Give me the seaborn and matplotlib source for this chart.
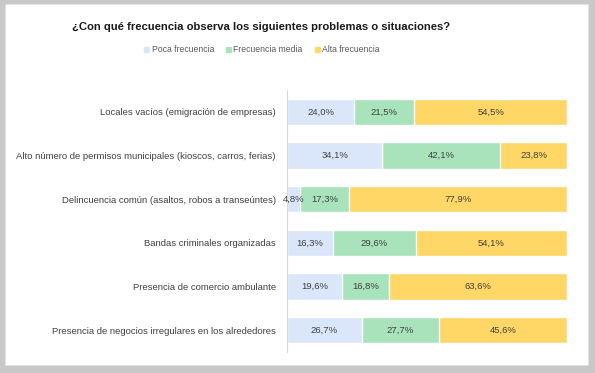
import pandas as pd
import matplotlib.pyplot as plt
import matplotlib.patches as mpatches
import seaborn as sns

# survey data (percent of answers)
categorias = [
    "Locales vacíos (emigración de empresas)",
    "Alto número de permisos municipales (kioscos, carros, ferias)",
    "Delincuencia común (asaltos, robos a transeúntes)",
    "Bandas criminales organizadas",
    "Presencia de comercio ambulante",
    "Presencia de negocios irregulares en los alrededores",
]
poca = [24.0, 34.1, 4.8, 16.3, 19.6, 26.7]
media = [21.5, 42.1, 17.3, 29.6, 16.8, 27.7]
alta = [54.5, 23.8, 77.9, 54.1, 63.6, 45.6]

series = ["Poca frecuencia", "Frecuencia media", "Alta frecuencia"]
colores = ["#dae6f9", "#a8e3bb", "#ffd766"]

df = pd.DataFrame({"cat": categorias, "poca": poca, "media": media, "alta": alta})
df["c1"] = df["poca"]
df["c2"] = df["poca"] + df["media"]
df["c3"] = df["c2"] + df["alta"]

sns.set_style("white")
plt.rcParams["font.family"] = ["Liberation Sans", "DejaVu Sans"]

fig = plt.figure(figsize=(5.95, 3.73), dpi=100)
fig.patch.set_facecolor("#c8c8c8")
fig.patches.append(mpatches.Rectangle((5 / 595, 8 / 373), 583 / 595, 361 / 373,
                                      transform=fig.transFigure, facecolor="white",
                                      edgecolor="#e2e2e2", lw=0.8, zorder=-10))

ax = fig.add_axes([287 / 595, 21 / 373, 280 / 595, 262 / 373])
ax.set_facecolor("none")

# stacked bars drawn as overlapping cumulative bars
for col, color in zip(["c3", "c2", "c1"], colores[::-1]):
    sns.barplot(data=df, y="cat", x=col, orient="h", color=color, width=0.6,
                saturation=1, ax=ax, errorbar=None)

# value labels centered in each segment
for i, row in df.iterrows():
    lefts = [0, row["c1"], row["c2"]]
    vals = [row["poca"], row["media"], row["alta"]]
    for l, v in zip(lefts, vals):
        ax.text(l + v / 2, i, f"{v:.1f}%".replace(".", ","), ha="center", va="center",
                fontsize=6.8, color="#404040")

ax.set_xlim(0, 100)
ax.set_ylim(5.5, -0.5)
ax.set_xlabel("")
ax.set_ylabel("")
ax.set_xticks([])
ax.tick_params(axis="y", length=0, pad=8, labelsize=6.8, labelcolor="#404040")
for s in ["top", "right", "bottom"]:
    ax.spines[s].set_visible(False)
ax.spines["left"].set_color("#d9d9d9")
ax.spines["left"].set_linewidth(0.8)

fig.text(261 / 595, 1 - 27 / 373, "¿Con qué frecuencia observa los siguientes problemas o situaciones?",
         ha="center", va="center", fontsize=8.1, fontweight="bold", color="#1a1a1a")

handles = [mpatches.Patch(color=c, label=s) for s, c in zip(series, colores)]
fig.legend(handles=handles, loc="center", bbox_to_anchor=(262 / 595, 1 - 50 / 373), ncol=3,
           frameon=False, fontsize=6.2, handlelength=0.55, handleheight=0.55,
           handletextpad=0.3, columnspacing=1.4, labelcolor="#595959")

fig.savefig("out.png", dpi=100, facecolor=fig.get_facecolor())
